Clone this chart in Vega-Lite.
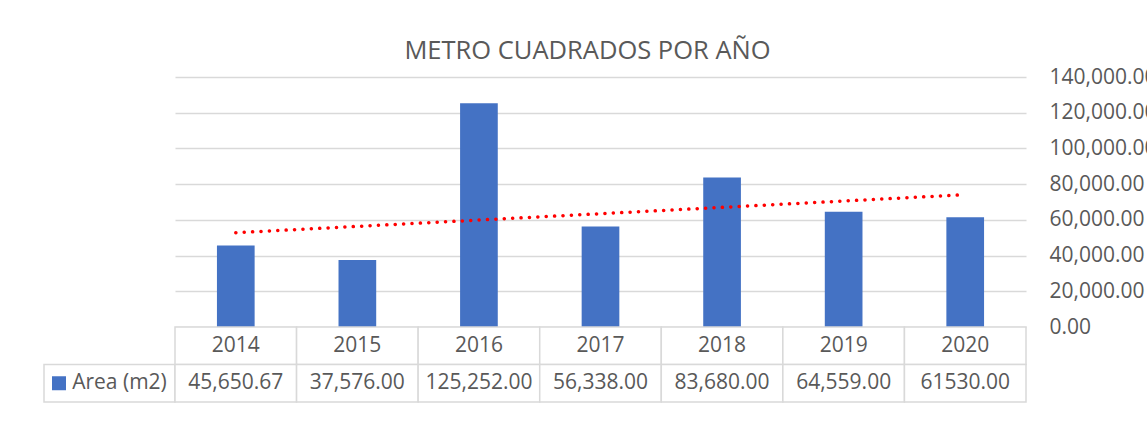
{
  "$schema": "https://vega.github.io/schema/vega-lite/v6.json",
  "padding": {"left": 43, "top": 38, "right": 0, "bottom": 0},
  "background": "white",
  "config": {"view": {"stroke": null}, "font": "Open Sans"},
  "datasets": {
    "area": [
      {"year": 2014, "area": 45650.67, "label": "45,650.67"},
      {"year": 2015, "area": 37576.00, "label": "37,576.00"},
      {"year": 2016, "area": 125252.00, "label": "125,252.00"},
      {"year": 2017, "area": 56338.00, "label": "56,338.00"},
      {"year": 2018, "area": 83680.00, "label": "83,680.00"},
      {"year": 2019, "area": 64559.00, "label": "64,559.00"},
      {"year": 2020, "area": 61530.00, "label": "61530.00"}
    ],
    "trend": [
      {"year": 2014, "trend": 52800},
      {"year": 2020, "trend": 74100}
    ]
  },
  "columns": 2,
  "spacing": 0,
  "bounds": "flush",
  "concat": [
    {
      "width": 131,
      "height": 250,
      "data": {"values": [{}]},
      "mark": {"type": "text", "text": ""},
      "encoding": {}
    },
    {
      "width": 851,
      "height": 250,
      "title": {
        "text": "METRO CUADRADOS POR AÑO",
        "font": "Open Sans",
        "fontSize": 25.5,
        "fontWeight": "normal",
        "color": "#595959",
        "anchor": "middle",
        "frame": "group",
        "dx": -13,
        "offset": 2
      },
      "layer": [
        {
          "data": {"name": "area"},
          "mark": {"type": "bar", "color": "#4472C4"},
          "encoding": {
            "x": {"field": "year", "type": "ordinal", "axis": null, "scale": {"paddingInner": 0.69, "paddingOuter": 0.345}},
            "y": {
              "field": "area",
              "type": "quantitative",
              "scale": {"domain": [0, 140000], "nice": false},
              "axis": {
                "orient": "right",
                "values": [0, 20000, 40000, 60000, 80000, 100000, 120000, 140000],
                "tickCount": 10,
                "format": ",.2f",
                "grid": true,
                "gridColor": "#d9d9d9",
                "gridWidth": 1.5,
                "domain": false,
                "ticks": false,
                "tickSize": 0,
                "labelOverlap": false,
                "labelPadding": 23,
                "labelFontSize": 21,
                "labelFont": "Open Sans",
                "labelColor": "#595959",
                "title": null
              }
            }
          }
        },
        {
          "data": {"name": "trend"},
          "mark": {"type": "line", "color": "#FF0000", "strokeWidth": 3.5, "strokeDash": [0.1, 8.3], "strokeCap": "round"},
          "encoding": {
            "x": {"field": "year", "type": "ordinal"},
            "y": {"field": "trend", "type": "quantitative"}
          }
        }
      ]
    },
    {
      "width": 131,
      "height": 75,
      "data": {"values": [{"row": "value", "series": "Area (m2)"}]},
      "encoding": {
        "y": {"field": "row", "type": "nominal", "scale": {"domain": ["year", "value"], "paddingInner": 0, "paddingOuter": 0}, "axis": null}
      },
      "layer": [
        {"mark": {"type": "rect", "fill": "white", "stroke": "#d9d9d9", "strokeWidth": 1.5}},
        {"mark": {"type": "point", "shape": "square", "filled": true, "size": 196, "color": "#4472C4", "opacity": 1, "xOffset": -50.5}},
        {"mark": {"type": "text", "fontSize": 21, "font": "Open Sans", "color": "#595959", "dx": 10}, "encoding": {"text": {"field": "series", "type": "nominal"}}}
      ]
    },
    {
      "width": 851,
      "height": 75,
      "data": {"name": "area"},
      "encoding": {
        "x": {"field": "year", "type": "ordinal", "scale": {"paddingInner": 0, "paddingOuter": 0}, "axis": null}
      },
      "layer": [
        {
          "mark": {"type": "rect", "fill": "white", "stroke": "#d9d9d9", "strokeWidth": 1.5},
          "encoding": {"y": {"datum": "year", "type": "nominal", "scale": {"domain": ["year", "value"], "paddingInner": 0, "paddingOuter": 0}, "axis": null}}
        },
        {
          "mark": {"type": "rect", "fill": "white", "stroke": "#d9d9d9", "strokeWidth": 1.5},
          "encoding": {"y": {"datum": "value", "type": "nominal"}}
        },
        {
          "mark": {"type": "text", "fontSize": 21, "font": "Open Sans", "color": "#595959"},
          "encoding": {"y": {"datum": "year", "type": "nominal"}, "text": {"field": "year", "type": "nominal"}}
        },
        {
          "mark": {"type": "text", "fontSize": 21, "font": "Open Sans", "color": "#595959"},
          "encoding": {"y": {"datum": "value", "type": "nominal"}, "text": {"field": "label", "type": "nominal"}}
        }
      ]
    }
  ]
}
